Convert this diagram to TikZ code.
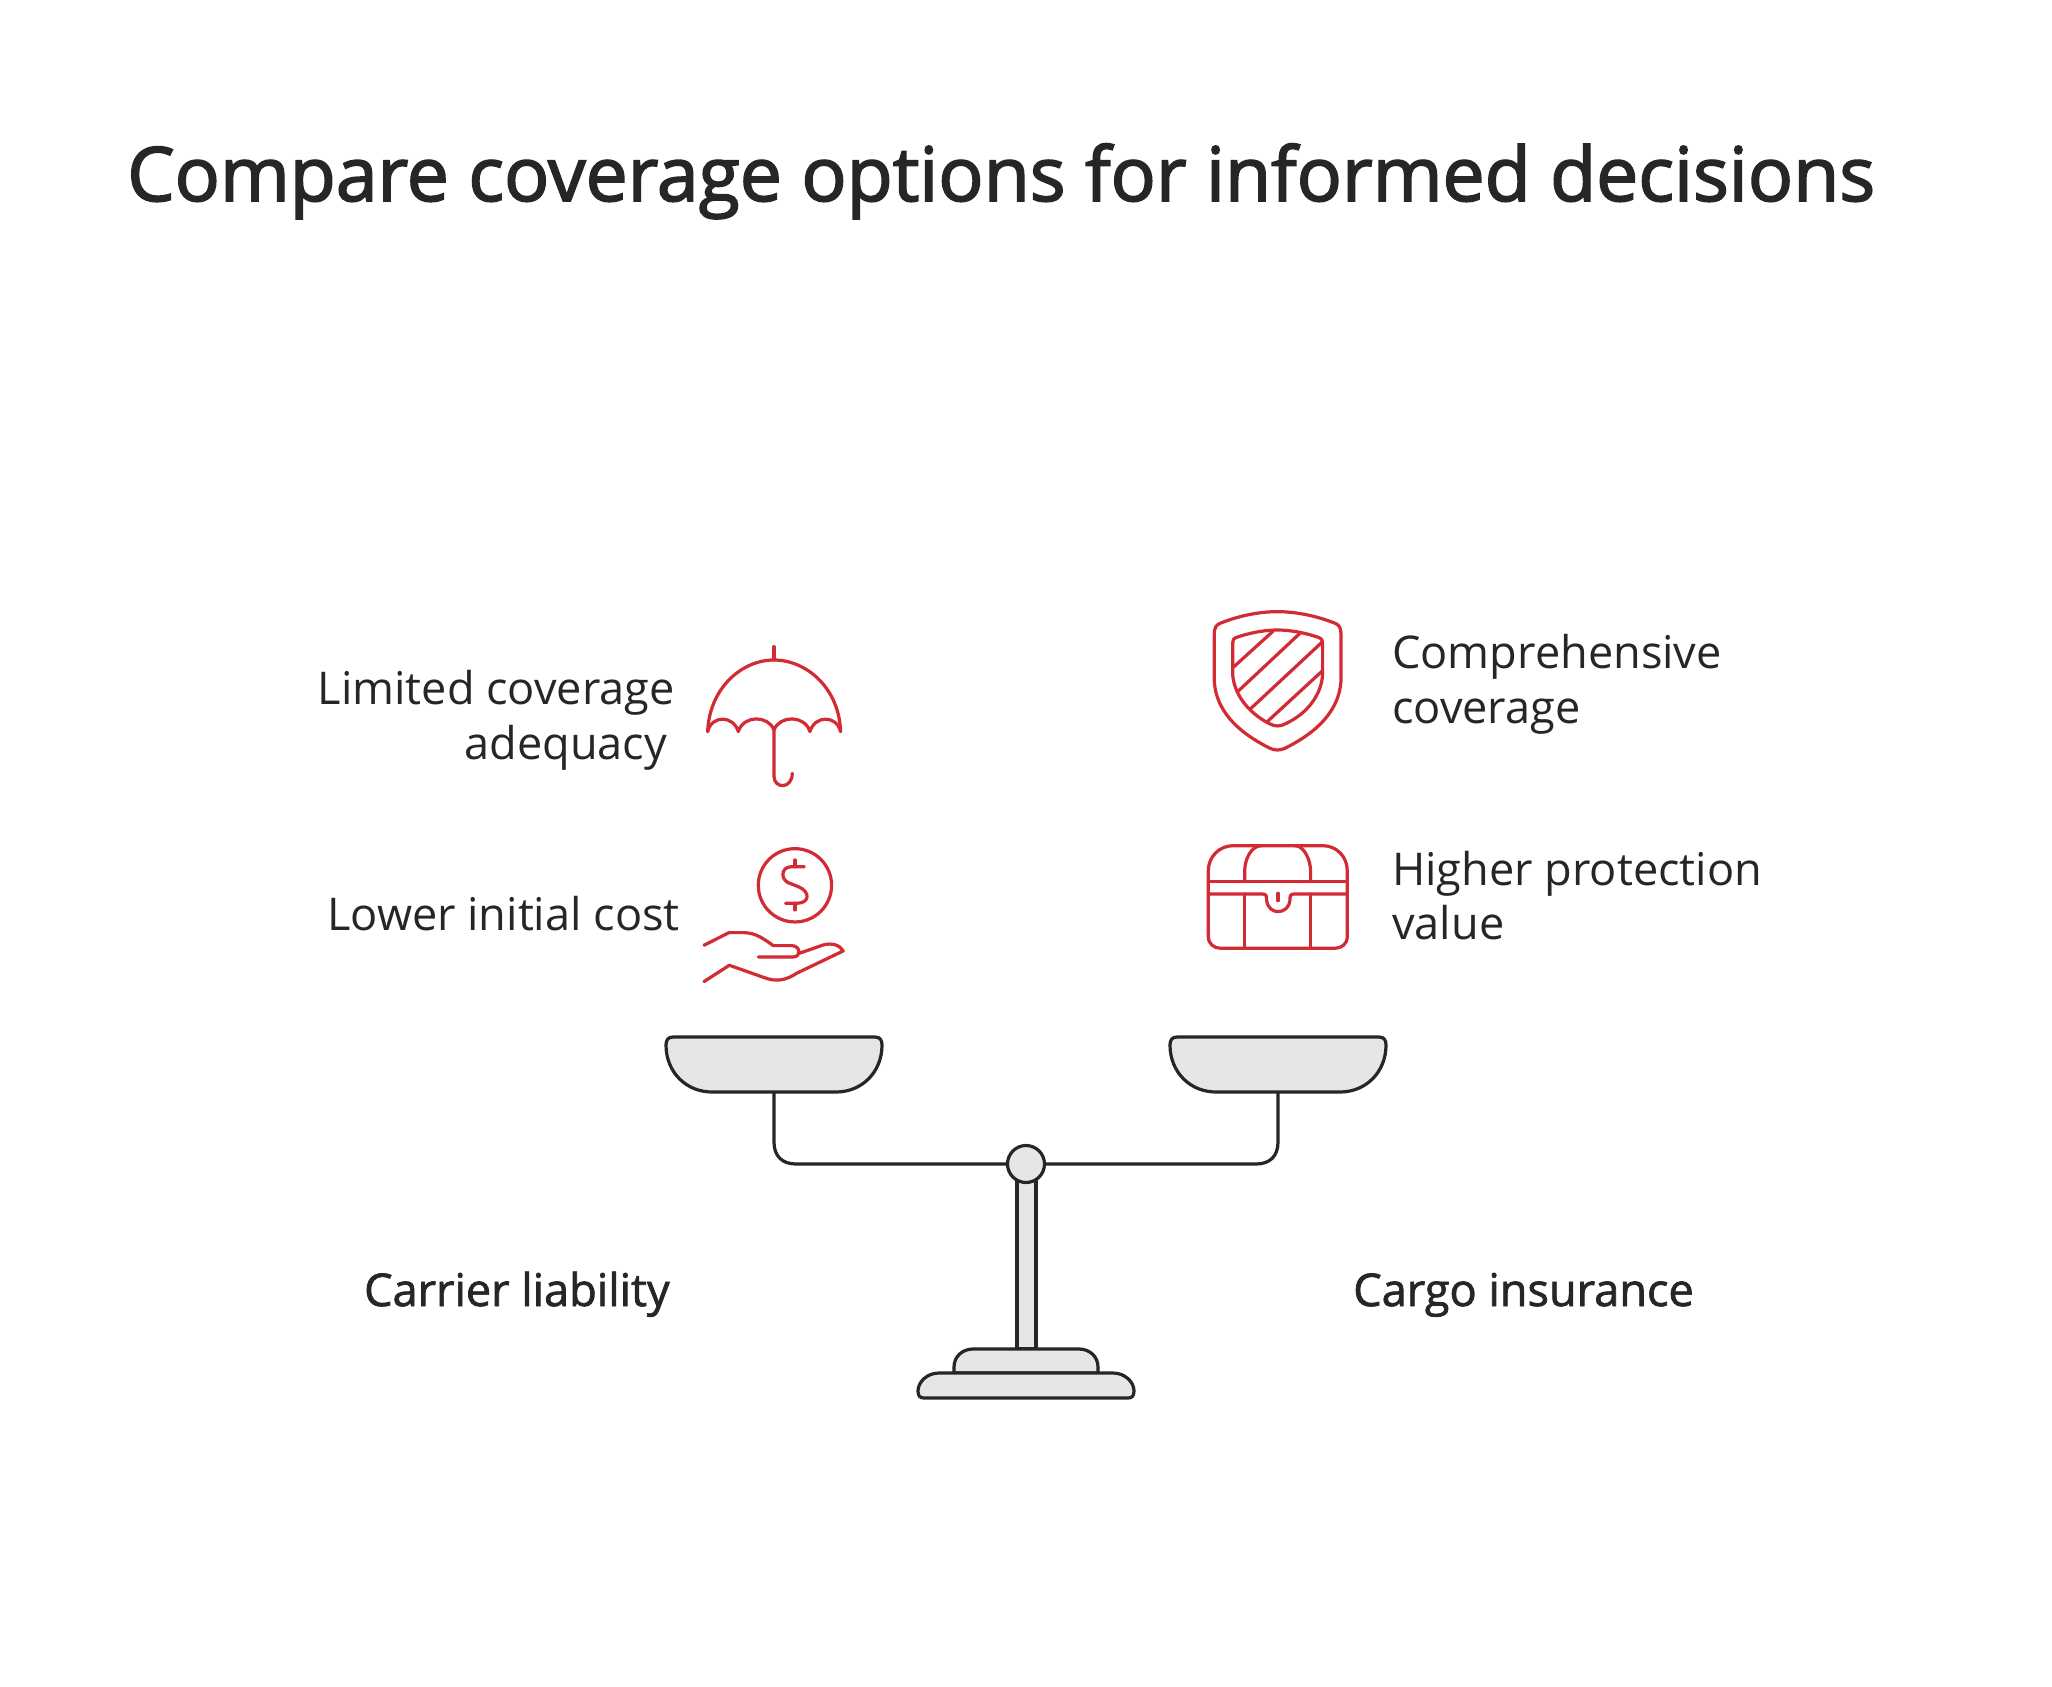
\documentclass[tikz,border=0pt]{standalone}
\usepackage{fontspec}
\setmainfont{Open Sans}
\newfontfamily\medfont[FakeBold=1.6]{Open Sans}
\newfontfamily\titlefont[FakeBold=2.2]{Open Sans}
\definecolor{inkc}{HTML}{262626}
\definecolor{redc}{HTML}{D22B33}
\definecolor{fillc}{HTML}{E6E6E6}
\tikzset{
 pic px/.style={x=0.03cm,y=-0.03cm},
 part/.style={draw=inkc,fill=fillc,line width=3.2*0.8536pt,line join=round},
 arm/.style={draw=inkc,line width=3.2*0.8536pt,line join=round},
 icon/.style={draw=redc,line width=3.2*0.8536pt,line join=round,line cap=round},
 label/.style={inner sep=0pt,text=inkc,font=\fontsize{38.5}{46.1}\selectfont},
 heading/.style={inner sep=0pt,text=inkc,font=\medfont\fontsize{38.5}{46.1}\selectfont},
 title/.style={inner sep=0pt,text=inkc,font=\titlefont\fontsize{64.1}{78}\selectfont}
}
\begin{document}
\begin{tikzpicture}[pic px]
\useasboundingbox (0,0) rectangle (2052,1686);
\fill[white] (0,0) rectangle (2052,1686);
\node[title,anchor=base west] (title) at (127,201) {Compare coverage options for informed decisions};
% labels
\node[label,anchor=base east,align=right] (limited) at (675,759) {Limited coverage\\adequacy\hspace*{6.5pt}};
\node[label,anchor=base east] (lower) at (680,930) {Lower initial cost};
\node[label,anchor=base west,align=left] (compr) at (1392,723) {Comprehensive\\coverage};
\node[label,anchor=base west,align=left] (higher) at (1392,939) {Higher protection\\value};
\node[heading,anchor=base east] (carrier) at (670,1306) {Carrier liability};
\node[heading,anchor=base west] (cargo) at (1353,1306) {Cargo insurance};
% scale
\draw[arm] (774,1092) -- (774,1142) .. controls (774,1156) and (782,1164) .. (796,1164) -- (1256,1164) .. controls (1270,1164) and (1278,1156) .. (1278,1142) -- (1278,1092);
\foreach \c/\n in {774/panL,1278/panR}{
\path[part] (\c-108,1045) .. controls (\c-108,1040) and (\c-106,1037) .. (\c-101,1037) -- (\c+101,1037) .. controls (\c+106,1037) and (\c+108,1040) .. (\c+108,1045)
  .. controls (\c+108,1072) and (\c+88,1092) .. (\c+62,1092) -- (\c-62,1092) .. controls (\c-88,1092) and (\c-108,1072) .. (\c-108,1045) -- cycle;
}
\path[part] (1017,1180) rectangle (1036,1349);
\path[part] (954,1373) -- (954,1367) .. controls (954,1356) and (963,1349) .. (973,1349) -- (1079,1349) .. controls (1089,1349) and (1098,1356) .. (1098,1367) -- (1098,1373) -- cycle;
\path[part] (918,1391) .. controls (918,1382) and (927,1373) .. (939,1373) -- (1113,1373) .. controls (1125,1373) and (1134,1382) .. (1134,1391) .. controls (1134,1396) and (1132,1398) .. (1128,1398) -- (924,1398) .. controls (920,1398) and (918,1396) .. (918,1391) -- cycle;
\node[part,circle,minimum size=37*0.8536pt,inner sep=0pt] (pivot) at (1026,1164) {};
% umbrella
\begin{scope}[shift={(680,630)},x=0.01cm,y=-0.01cm]
\draw[icon] (282,50) -- (282,90);
\draw[icon] (83,305) .. controls (88,175) and (185,90) .. (282,90) .. controls (380,90) and (478,175) .. (482,305);
\draw[icon] (83,305) .. controls (95,255) and (160,255) .. (175,305) .. controls (190,255) and (265,255) .. (282,300) .. controls (300,255) and (375,255) .. (390,305) .. controls (405,255) and (470,255) .. (482,305);
\draw[icon] (282,300) -- (282,438) .. controls (282,478) and (337,478) .. (337,430);
\end{scope}
% coin and hand
\begin{scope}[shift={(680,830)},x=0.01cm,y=-0.01cm]
\draw[icon] (345,166) circle[radius=110];
\draw[icon] (373,110) -- (335,110) .. controls (300,110) and (300,155) .. (335,162) -- (355,170) .. controls (392,185) and (390,220) .. (350,220) -- (317,220);
\draw[icon] (345,90) -- (345,110) (345,220) -- (345,240);
\draw[icon] (72,346) -- (147,308) -- (190,308) .. controls (230,308) and (255,330) .. (280,347) -- (335,347) .. controls (362,347) and (365,381) .. (340,381) -- (235,381);
\draw[icon] (358,370) -- (430,345) .. controls (455,338) and (480,345) .. (490,363) -- (350,430) .. controls (320,450) and (290,458) .. (250,442) -- (148,406) -- (72,455);
\end{scope}
% shield
\begin{scope}[shift={(1190,600)},x=0.01cm,y=-0.01cm]
\draw[icon] (262,35) .. controls (200,35) and (140,50) .. (90,70) .. controls (78,75) and (73,85) .. (73,100) -- (73,245) .. controls (80,350) and (170,410) .. (240,445) .. controls (255,452) and (270,452) .. (285,445) .. controls (355,410) and (445,350) .. (453,245) -- (453,100) .. controls (453,85) and (448,75) .. (436,70) .. controls (385,50) and (325,35) .. (262,35) -- cycle;
\draw[icon] (262,90) .. controls (220,90) and (175,100) .. (140,112) .. controls (130,116) and (128,120) .. (128,130) -- (128,225) .. controls (135,300) and (195,350) .. (240,372) .. controls (255,380) and (270,380) .. (285,372) .. controls (335,350) and (392,300) .. (398,225) -- (398,130) .. controls (398,120) and (395,116) .. (385,112) .. controls (350,100) and (305,90) .. (262,90) -- cycle;
\draw[icon] (132,200) -- (250,93);
\draw[icon] (143,275) -- (332,98);
\draw[icon] (180,328) -- (398,125);
\draw[icon] (232,365) -- (398,212);
\end{scope}
% chest
\begin{scope}[shift={(1190,830)},x=0.01cm,y=-0.01cm]
\draw[icon] (130,47) -- (398,47) .. controls (440,47) and (472,80) .. (472,122) -- (472,320) .. controls (472,342) and (455,355) .. (435,355) -- (92,355) .. controls (72,355) and (55,342) .. (55,320) -- (55,122) .. controls (55,80) and (88,47) .. (130,47) -- cycle;
\draw[icon] (55,155) -- (472,155);
\draw[icon] (55,192) -- (218,192) .. controls (230,192) and (230,200) .. (230,210) .. controls (232,235) and (250,245) .. (264,245) .. controls (280,245) and (298,235) .. (300,210) .. controls (300,200) and (300,192) .. (312,192) -- (472,192);
\draw[icon] (164,155) -- (164,125) .. controls (164,85) and (185,47) .. (215,47) (362,155) -- (362,125) .. controls (362,85) and (340,47) .. (315,47);
\draw[icon] (164,192) -- (164,355) (362,192) -- (362,355);
\draw[icon] (264,190) -- (264,212);
\end{scope}
\end{tikzpicture}
\end{document}
